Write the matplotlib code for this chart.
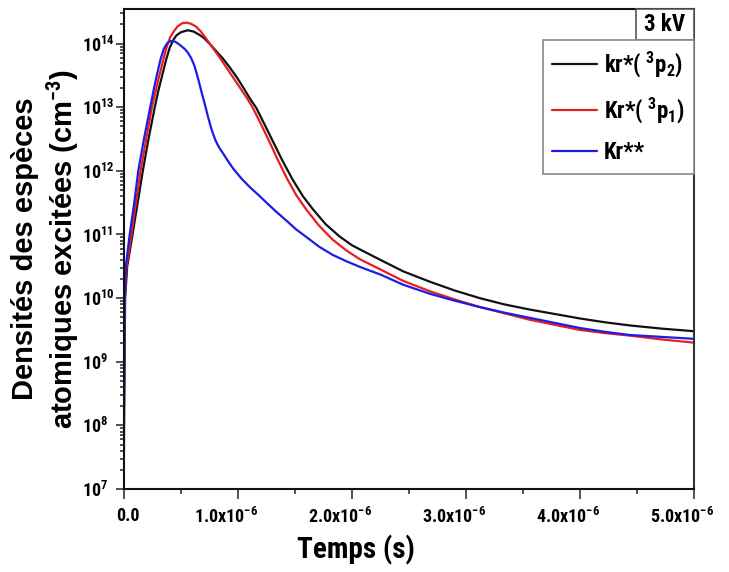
import numpy as np
import matplotlib
matplotlib.use("Agg")
import matplotlib.pyplot as plt
from matplotlib import font_manager as fm
from matplotlib.ticker import FixedLocator, LogLocator, MultipleLocator, NullFormatter
from matplotlib.transforms import ScaledTranslation
from matplotlib.patches import Rectangle

# ---------------- data: time in microseconds, log10 of density (cm^-3) ----------------
t_kr3p2 = [0, 0.004, 0.01, 0.028, 0.075, 0.12, 0.165, 0.215, 0.27, 0.30, 0.335, 0.37, 0.40,
           0.43, 0.46, 0.50, 0.56, 0.61, 0.66, 0.70, 0.75, 0.81, 0.87, 0.93, 0.99, 1.05,
           1.10, 1.16, 1.23, 1.31, 1.39, 1.48, 1.57, 1.66, 1.77, 1.89, 2.00, 2.13, 2.25,
           2.45, 2.68, 2.90, 3.12, 3.34, 3.56, 3.78, 4.00, 4.22, 4.44, 4.72, 5.00]
log_kr3p2 = [8.3, 9.0, 10.0, 10.5, 11.0, 11.5, 12.0, 12.5, 13.0, 13.25, 13.5, 13.75, 13.93,
             14.05, 14.13, 14.18, 14.21, 14.19, 14.14, 14.09, 14.0, 13.88, 13.76, 13.62,
             13.47, 13.30, 13.15, 12.99, 12.74, 12.45, 12.16, 11.86, 11.60, 11.39, 11.16,
             10.97, 10.83, 10.71, 10.60, 10.42, 10.26, 10.12, 10.0, 9.90, 9.82, 9.75, 9.68,
             9.62, 9.57, 9.52, 9.48]

t_kr3p1 = [0, 0.003, 0.007, 0.022, 0.065, 0.105, 0.145, 0.195, 0.245, 0.28, 0.31, 0.345,
           0.375, 0.405, 0.44, 0.47, 0.51, 0.55, 0.59, 0.63, 0.67, 0.72, 0.78, 0.84, 0.90,
           0.96, 1.02, 1.08, 1.13, 1.20, 1.27, 1.35, 1.43, 1.51, 1.60, 1.71, 1.83, 1.95,
           2.07, 2.25, 2.45, 2.68, 2.90, 3.12, 3.34, 3.56, 3.78, 4.00, 4.22, 4.44, 4.72, 5.00]
log_kr3p1 = [7.6, 9.0, 10.0, 10.5, 11.0, 11.5, 12.0, 12.5, 13.0, 13.27, 13.5, 13.75, 13.95,
             14.1, 14.2, 14.27, 14.32, 14.33, 14.31, 14.27, 14.2, 14.08, 13.93, 13.78,
             13.62, 13.46, 13.30, 13.14, 12.99, 12.74, 12.48, 12.17, 11.88, 11.62, 11.39,
             11.14, 10.92, 10.75, 10.61, 10.45, 10.27, 10.11, 9.98, 9.86, 9.76, 9.66, 9.58,
             9.50, 9.45, 9.41, 9.35, 9.30]

t_kr2 = [0, 0.003, 0.006, 0.016, 0.05, 0.09, 0.125, 0.175, 0.23, 0.26, 0.29, 0.32, 0.35,
         0.38, 0.41, 0.45, 0.49, 0.53, 0.56, 0.59, 0.62, 0.65, 0.68, 0.71, 0.74, 0.77,
         0.80, 0.83, 0.86, 0.91, 0.96, 1.03, 1.10, 1.18, 1.25, 1.34, 1.43, 1.51, 1.60,
         1.71, 1.83, 1.95, 2.07, 2.25, 2.45, 2.68, 2.90, 3.12, 3.34, 3.56, 3.78, 4.00,
         4.22, 4.44, 4.72, 5.00]
log_kr2 = [8.0, 9.0, 10.0, 10.5, 11.0, 11.5, 12.0, 12.5, 13.0, 13.27, 13.52, 13.75, 13.92,
           14.01, 14.04, 14.03, 13.98, 13.92, 13.86, 13.77, 13.64, 13.45, 13.24, 13.04,
           12.83, 12.64, 12.49, 12.38, 12.30, 12.16, 12.03, 11.88, 11.75, 11.62, 11.50,
           11.35, 11.21, 11.08, 10.96, 10.81, 10.68, 10.58, 10.49, 10.37, 10.21, 10.07,
           9.96, 9.86, 9.77, 9.69, 9.61, 9.53, 9.47, 9.42, 9.39, 9.36]

series_labels = [r"kr*( $^{3}$p$_{2}$)", r"Kr*( $^{3}$p$_{1}$)", "Kr**"]
series_colors = ["#111111", "#e81e1e", "#1c1ce6"]

x_ticks = [0, 1e-6, 2e-6, 3e-6, 4e-6, 5e-6]
x_ticklabels = ["0.0", r"1.0x10$^{-6}$", r"2.0x10$^{-6}$", r"3.0x10$^{-6}$",
                r"4.0x10$^{-6}$", r"5.0x10$^{-6}$"]
y_ticks = [1e7, 1e8, 1e9, 1e10, 1e11, 1e12, 1e13, 1e14]
y_ticklabels = [r"10$^{7}$", r"10$^{8}$", r"10$^{9}$", r"10$^{10}$", r"10$^{11}$",
                r"10$^{12}$", r"10$^{13}$", r"10$^{14}$"]
voltage_label = "3 kV"
x_label = "Temps (s)"
y_label = "Densités des espèces\natomiques excitées (cm$^{-3}$)"

# ---------------- fonts ----------------
avail = {}
for f in fm.fontManager.ttflist:
    w = f.weight if isinstance(f.weight, int) else 400
    avail.setdefault(f.name, set()).add(w)
cands = ["Liberation Sans Narrow", "Arial Narrow", "Nimbus Sans Narrow", "Roboto Condensed",
         "Archivo Narrow", "PT Sans Narrow", "Pragati Narrow", "Open Sans Condensed",
         "IBM Plex Sans Condensed", "Encode Sans Condensed", "Sofia Sans Condensed",
         "Saira SemiCondensed"]
NARROW = None
for c in cands:
    if c in avail and max(avail[c]) >= 600:
        NARROW = c
        break
if NARROW is None:
    NARROW = next((c for c in cands if c in avail), "Liberation Sans")
WIDE = "Liberation Sans"

plt.rcParams["font.family"] = [NARROW, "DejaVu Sans"]
plt.rcParams["font.weight"] = "bold"
plt.rcParams["mathtext.fontset"] = "custom"
plt.rcParams["mathtext.rm"] = f"{NARROW}:bold"
plt.rcParams["mathtext.bf"] = f"{NARROW}:bold"
plt.rcParams["mathtext.sf"] = f"{NARROW}:bold"
plt.rcParams["mathtext.it"] = f"{NARROW}:bold"
plt.rcParams["mathtext.default"] = "rm"

# ---------------- figure ----------------
fig = plt.figure(figsize=(7.29, 5.72), dpi=100)
ax = fig.add_axes([124 / 729, 83 / 572, 570 / 729, 480 / 572])

for t, lg, lab, col in zip([t_kr3p2, t_kr3p1, t_kr2], [log_kr3p2, log_kr3p1, log_kr2],
                           series_labels, series_colors):
    ax.plot(np.array(t) * 1e-6, 10.0 ** np.array(lg), color=col, lw=1.6, label=lab,
            solid_joinstyle="round", solid_capstyle="round")

ax.set_yscale("log")
ax.set_xlim(0, 5e-6)
ax.set_ylim(1e7, 3.5e14)

ax.xaxis.set_major_locator(FixedLocator(x_ticks))
ax.set_xticklabels(x_ticklabels)
ax.xaxis.set_minor_locator(MultipleLocator(0.5e-6))
ax.yaxis.set_major_locator(FixedLocator(y_ticks))
ax.set_yticklabels(y_ticklabels)
ax.yaxis.set_minor_locator(LogLocator(base=10, subs=np.arange(2, 10), numticks=20))
ax.yaxis.set_minor_formatter(NullFormatter())

ax.tick_params(axis="both", which="both", direction="out", top=False, right=False,
               width=1.1, color="#222222")
ax.tick_params(axis="x", which="major", length=7, pad=6, labelsize=13)
ax.tick_params(axis="x", which="minor", length=3.5)
ax.tick_params(axis="y", which="major", length=6, pad=24.5, labelsize=13)
ax.tick_params(axis="y", which="minor", length=3)

for s in ["left", "bottom", "top"]:
    ax.spines[s].set_linewidth(1.5)
    ax.spines[s].set_color("#111111")
ax.spines["right"].set_linewidth(1.5)
ax.spines["right"].set_color("#333333")

# y tick labels left-aligned (as in the reference)
for tk in ax.yaxis.get_major_ticks():
    tk.label1.set_horizontalalignment("left")
# x tick labels slightly shifted like the reference
for i, tk in enumerate(ax.xaxis.get_major_ticks()):
    dx_px = 4 if i == 0 else -12
    tk.label1.set_transform(tk.label1.get_transform()
                            + ScaledTranslation(dx_px / 100, 0, fig.dpi_scale_trans))

ax.set_xlabel(x_label, fontsize=21, fontweight="bold")
ax.xaxis.set_label_coords(0.407, -0.096)
ax.set_ylabel(y_label, fontsize=21, fontweight="bold", family=[WIDE, "DejaVu Sans"],
              linespacing=1.2)
ax.yaxis.set_label_coords(-0.076, 0.5)

# 3 kV box
ax.add_patch(Rectangle((0.898, 0.935), 0.102, 0.065, transform=ax.transAxes,
                       facecolor="white", edgecolor="#555555", lw=1.2, clip_on=False, zorder=5))
ax.text(0.949, 0.967, voltage_label, transform=ax.transAxes, ha="center", va="center",
        fontsize=16.5, fontweight="bold", zorder=6)

leg = ax.legend(loc="upper right", bbox_to_anchor=(1.0, 0.935), borderaxespad=0,
                handlelength=1.95, handletextpad=0.3, borderpad=0.4,
                labelspacing=0.7, fancybox=False, framealpha=1, edgecolor="#888888",
                prop={"family": [NARROW, "DejaVu Sans"], "weight": "bold", "size": 16.5})
leg.get_frame().set_linewidth(1.2)

fig.savefig("out.png", dpi=100)
